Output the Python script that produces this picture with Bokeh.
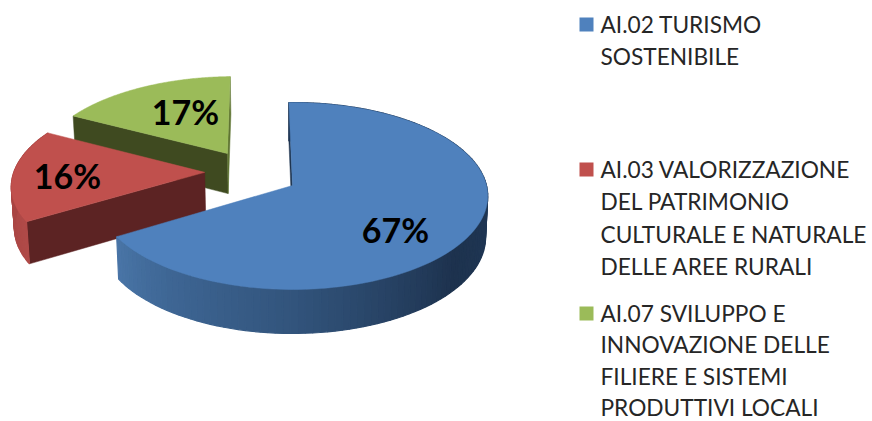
import numpy as np
from bokeh.plotting import figure
from bokeh.models import Range1d
from bokeh.core.properties import value
from bokeh.embed import file_html
from bokeh.resources import INLINE

# data
categories = [
    ["AI.02 TURISMO", "SOSTENIBILE"],
    ["AI.03 VALORIZZAZIONE", "DEL PATRIMONIO", "CULTURALE E NATURALE", "DELLE AREE RURALI"],
    ["AI.07 SVILUPPO E", "INNOVAZIONE DELLE", "FILIERE E SISTEMI", "PRODUTTIVI LOCALI"],
]
shares = [66.6, 16.4, 17.0]
face_colors = ["#4f81bd", "#c0504d", "#9bbb59"]
label_texts = ["67%", "16%", "17%"]

# 3D projection parameters (layout)
CX, CY, RX, RY, K, DEPTH = 292.0, 185.0, 194.0, 92.3, 0.112, 41.0
START = -1.2
EXPLODE = [(0.0, 0.0), (-0.46, -0.145), (-0.349, -0.36)]
LABEL_XY = [(395, 229), (67, 175), (185, 111)]
LEG_TOP = [24, 169, 313]
LINE_HEIGHTS = [32.4, 32.4, 31.4]

def project(theta, rad, ex, ey, drop=0.0):
    t = np.radians(theta)
    gx = ex + rad * np.sin(t)
    gy = ey - rad * np.cos(t)
    f = 1.0 / (1.0 - K * gy)
    x = CX + RX * gx * f * (1 - 0.011 * drop)
    y = CY + RY * gy * f + drop * DEPTH * f ** 0.6
    return x, y

def lerp_color(theta, stops):
    a = [s[0] for s in stops]
    return "#%02x%02x%02x" % tuple(
        int(round(np.interp(theta, a, [s[1][i] for s in stops]))) for i in range(3))

p = figure(width=872, height=421, output_backend="svg", toolbar_location=None,
           x_range=Range1d(0, 872), y_range=Range1d(421, 0),
           min_border=0, margin=(0, 0, 0, 0))
p.axis.visible = False
p.grid.visible = False
p.outline_line_color = None
p.background_fill_color = "white"

edges = START + np.cumsum([0] + shares) * 3.6
spans = list(zip(edges[:-1], edges[1:]))

def arc_wall(i, a0, a1, stops, n=60):
    ex, ey = EXPLODE[i]
    th = np.linspace(a0, a1, n + 1)
    xs, ys, cs = [], [], []
    for u, v in zip(th[:-1], th[1:]):
        x0, y0 = project(u, 1, ex, ey)
        x1, y1 = project(v, 1, ex, ey)
        x2, y2 = project(v, 1, ex, ey, 1)
        x3, y3 = project(u, 1, ex, ey, 1)
        xs.append([x0, x1, x2, x3]); ys.append([y0, y1, y2, y3])
        cs.append(lerp_color((u + v) / 2, stops))
    p.patches(xs, ys, fill_color=cs, line_color=cs, line_width=1.2)

def radial_wall(i, a, color):
    ex, ey = EXPLODE[i]
    x0, y0 = project(a, 0, ex, ey)
    x1, y1 = project(a, 1, ex, ey)
    x2, y2 = project(a, 1, ex, ey, 1)
    x3, y3 = project(a, 0, ex, ey, 1)
    p.patch([x0, x1, x2, x3], [y0, y1, y2, y3], fill_color=color, line_color=color, line_width=0.5)

def face(i, a0, a1):
    ex, ey = EXPLODE[i]
    th = np.linspace(a0, a1, 160)
    x, y = project(th, 1, ex, ey)
    ax, ay = project(a0, 0, ex, ey)
    p.patch(np.r_[ax, x], np.r_[ay, y], fill_color=face_colors[i],
            line_color=face_colors[i], line_width=0.5)

# green (back)
radial_wall(2, spans[2][0], "#3f4a20")
radial_wall(2, spans[2][1], "#5f7432")
face(2, *spans[2])
# red
radial_wall(1, spans[1][0], "#5c2323")
arc_wall(1, spans[1][0], spans[1][1], [(240, (176, 74, 72)), (300, (160, 64, 62))])
face(1, *spans[1])
# blue (front)
radial_wall(0, spans[0][0], "#1f3550")
arc_wall(0, spans[0][0], spans[0][1],
         [(0, (30, 52, 80)), (90, (32, 56, 86)), (130, (29, 50, 78)),
          (180, (50, 84, 124)), (215, (62, 102, 148)), (240, (74, 118, 168))], n=120)
face(0, *spans[0])

# data labels
p.text([xy[0] for xy in LABEL_XY], [xy[1] for xy in LABEL_XY], text=label_texts,
       text_font=value("Lato"), text_font_style="bold", text_font_size="34px",
       text_color="#000000", text_align="center", text_baseline="middle")

# legend
for i, lines in enumerate(categories):
    top = LEG_TOP[i]
    p.rect([586], [LEG_TOP[i]], width=14, height=14, fill_color=face_colors[i], line_color=None)
    ys = [top + j * LINE_HEIGHTS[i] for j in range(len(lines))]
    p.text([600] * len(lines), ys, text=lines, text_font=value("Lato"),
           text_font_size="22.7px", text_color="#262626",
           text_align="left", text_baseline="middle")

open("out.html", "w").write(file_html(p, INLINE))
